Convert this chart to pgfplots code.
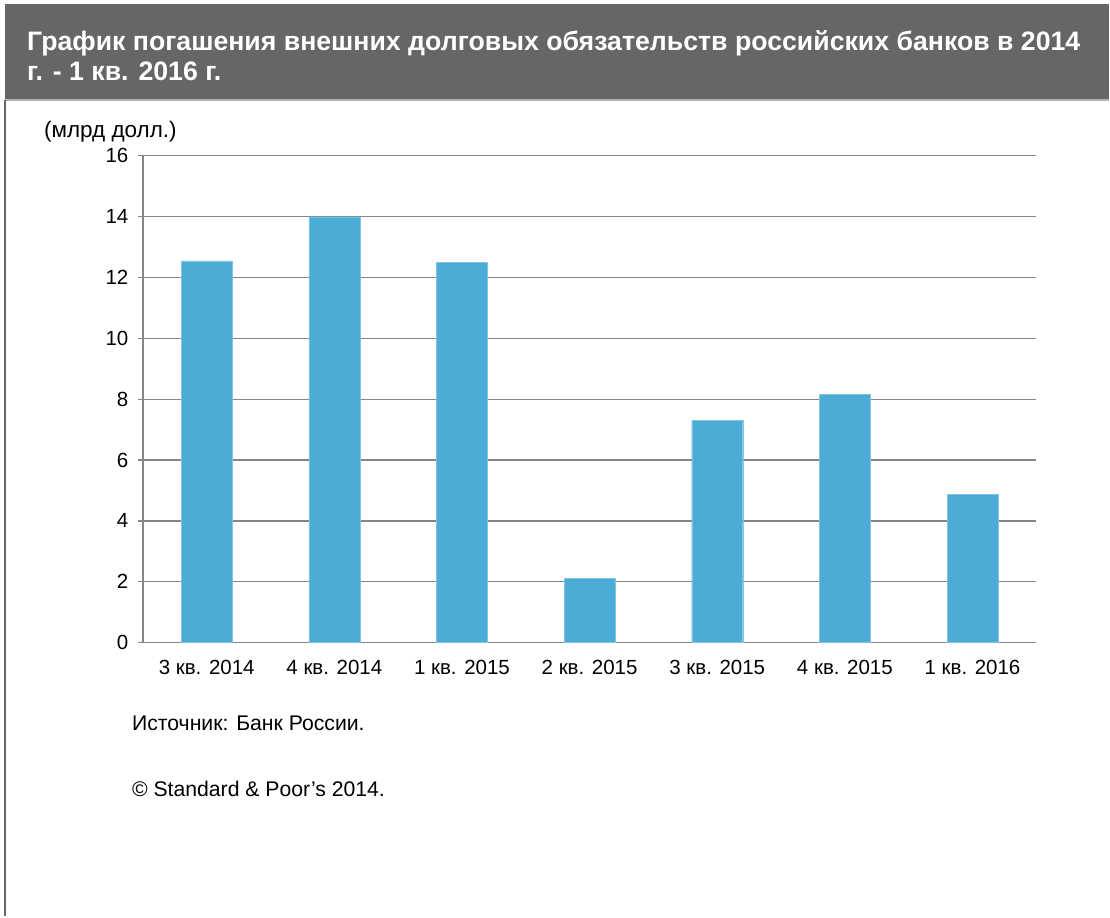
\documentclass[border=0pt]{standalone}
\usepackage{pgfplots}
\pgfplotsset{compat=1.18}
\usepackage{fontspec}
\setmainfont{Liberation Sans}
\definecolor{hdr}{RGB}{102,102,102}
\definecolor{barc}{RGB}{75,172,214}
\definecolor{gridc}{RGB}{134,134,134}
\begin{document}
\begin{tikzpicture}[x=1pt,y=-1pt]
\fill[white] (0,0) rectangle (1110,917);
\fill[hdr] (5,4) rectangle (1110,100);
\draw[color=gray!60, line width=1.5pt] (5,100) -- (1110,100);
\draw[color=gray!80!black, line width=1.5pt] (5,100) -- (5,917);
\node[anchor=base west, text=white, font=\fontsize{26.7}{30}\selectfont\bfseries, inner sep=0pt] at (27,51) {График погашения внешних долговых обязательств российских банков в 2014};
\node[anchor=base west, text=white, font=\fontsize{26.7}{30}\selectfont\bfseries, inner sep=0pt] at (27,81) {г. - 1 кв. 2016 г.};
\node[anchor=base west, font=\fontsize{22.5}{26}\selectfont, inner sep=0pt] at (44,138) {(млрд долл.)};
\node[anchor=base west, font=\fontsize{21.2}{24}\selectfont, inner sep=0pt] at (132,731) {Источник: Банк России.};
\node[anchor=base west, font=\fontsize{21.2}{24}\selectfont, inner sep=0pt] at (132,797) {© Standard \& Poor's 2014.};
\begin{axis}[
  at={(143pt,-643pt)}, anchor=south west,
  scale only axis, width=894pt, height=487pt,
  xmin=-0.5, xmax=6.5, ymin=0, ymax=16,
  axis x line*=bottom, axis y line*=left,
  axis line style={gridc, line width=1.2pt},
  ytick={0,2,...,16},
  ymajorgrids, grid style={gridc, line width=1.2pt},
  major tick length=5pt,
  tick align=outside,
  tick style={gridc, line width=1.2pt},
  xtick={0,...,6},
  xticklabels={3 кв. 2014,4 кв. 2014,1 кв. 2015,2 кв. 2015,3 кв. 2015,4 кв. 2015,1 кв. 2016},
  x tick style={draw=none},
  extra x ticks={-0.5,0.5,...,6.5},
  extra x tick labels={},
  extra x tick style={tick style={gridc, line width=1.2pt, draw=gridc}, major tick length=6pt, grid=none},
  ticklabel style={font=\fontsize{20.5}{24}\selectfont},
  /pgf/number format/assume math mode=true,
  yticklabel style={xshift=-6pt},
  xticklabel style={yshift=-9pt},
]
\addplot[ybar, bar width=51pt, fill=barc, draw=barc!70!white] coordinates {
(0,12.55) (1,14.0) (2,12.49) (3,2.11) (4,7.30) (5,8.15) (6,4.87)};
\end{axis}
\end{tikzpicture}
\end{document}
